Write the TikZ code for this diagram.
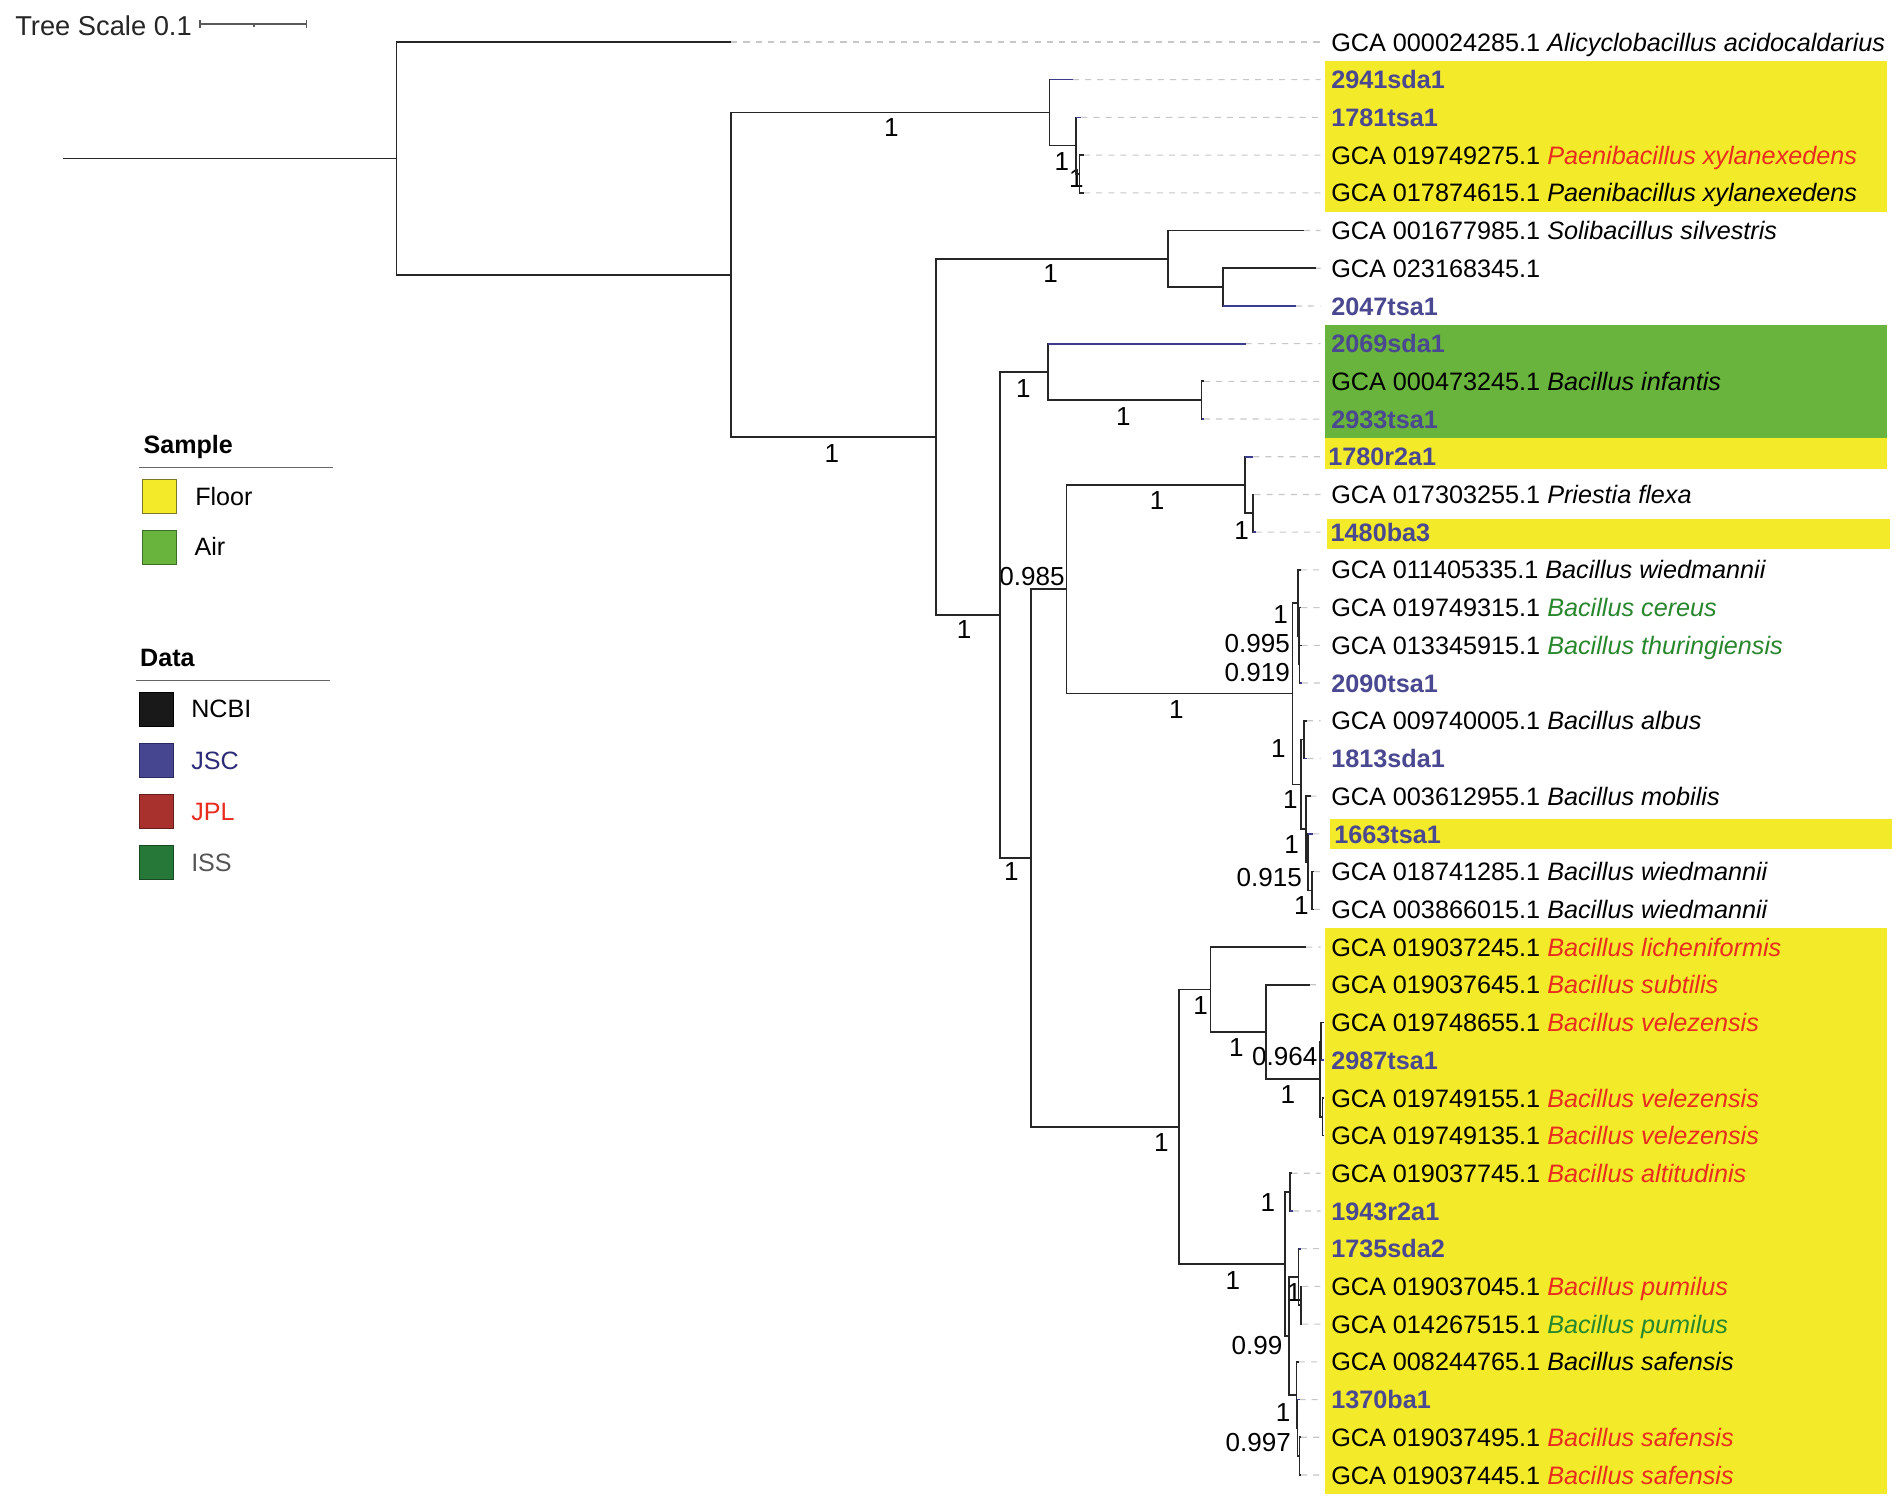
\documentclass[tikz,border=0pt]{standalone}
\usepackage{fontspec}
\setmainfont{Liberation Sans}
\definecolor{floor}{RGB}{243,234,42}
\definecolor{floorb}{RGB}{125,120,40}
\definecolor{air}{RGB}{104,180,60}
\definecolor{airb}{RGB}{60,110,42}
\definecolor{jsctext}{RGB}{74,72,145}
\definecolor{jscline}{RGB}{60,60,140}
\definecolor{jplred}{RGB}{232,45,30}
\definecolor{issgreen}{RGB}{40,135,45}
\definecolor{sqjsc}{RGB}{70,69,143}
\definecolor{sqjpl}{RGB}{168,49,45}
\definecolor{sqiss}{RGB}{38,120,56}
\definecolor{jsclegend}{RGB}{43,43,120}
\definecolor{isslegend}{RGB}{85,85,85}
\begin{document}
\begin{tikzpicture}[x=1pt,y=-1pt,
  br/.style={line width=1.35pt, black!85},
  jb/.style={line width=1.35pt, color=jscline},
  leader/.style={line width=0.9pt, color=black!22, dash pattern=on 5pt off 5pt},
  leaf/.style={anchor=base west, inner sep=0pt, font=\fontsize{20.8}{24}\selectfont},
  jsc/.style={leaf, font=\fontsize{20.8}{24}\selectfont\bfseries, text=jsctext},
  sup/.style={inner sep=0pt, anchor=center, font=\fontsize{21.5}{24}\selectfont},
  legt/.style={anchor=base west, inner sep=0pt, font=\fontsize{20.7}{24}\selectfont},
  legh/.style={anchor=base west, inner sep=0pt, font=\fontsize{20.7}{24}\selectfont\bfseries},
  sq/.style={minimum size=28pt, inner sep=0pt, line width=0.9pt},
]
\fill[white] (0,0) rectangle (1568.3,1239.3);
\path[use as bounding box] (0,0) rectangle (1568.3,1239.3);

% colour bands
\fill[floor] (1092.5,50.2) rectangle (1556,174.5);
\fill[air] (1092.5,267.9) rectangle (1556,361);
\fill[floor] (1092.5,361) rectangle (1556,386.7);
\fill[floor] (1094.5,428.2) rectangle (1558,452.9);
\fill[floor] (1096.5,675.5) rectangle (1560,700.3);
\fill[floor] (1092.5,765.2) rectangle (1556,1231.9);

% tree scale
\node[anchor=base west, inner sep=0pt, font=\fontsize{22.5}{26}\selectfont, text=black!85] (ts) at (12.4,28.9) {Tree Scale 0.1};
\coordinate (sb1) at (164.9,19.8);
\coordinate (sb2) at (252.9,19.8);
\coordinate (sbm) at (209.4,19.8);
\draw[line width=1.1pt, black!65] (sb1) -- (sb2);
\draw[line width=1.1pt, black!65] ([yshift=-3.6pt]sb1) -- ([yshift=3.6pt]sb1);
\draw[line width=1.1pt, black!65] ([yshift=-3.6pt]sb2) -- ([yshift=3.6pt]sb2);
\draw[line width=1pt, black!65] (sbm) -- ([yshift=-2.8pt]sbm);

% tree coordinates
\coordinate (rs) at (52.2,130.6);
\coordinate (root) at (327,130.6);
\coordinate (l1) at (603,34.6);
\coordinate (n603) at (603,226.6);
\coordinate (n865) at (865.5,92.9);
\coordinate (l2) at (884.7,65.7);
\coordinate (n887) at (887.4,120.1);
\coordinate (l3) at (891.6,96.8);
\coordinate (n890) at (890.2,143.45);
\coordinate (l4) at (893.8,127.9);
\coordinate (l5) at (893.8,159.0);
\coordinate (n772) at (772,360.25);
\coordinate (n963) at (963.1,213.4);
\coordinate (l6) at (1075.2,190.1);
\coordinate (n1008) at (1008.4,236.75);
\coordinate (l7) at (1084.8,221.2);
\coordinate (l8) at (1068.4,252.3);
\coordinate (n824) at (824.5,507.1);
\coordinate (n864) at (863.9,306.7);
\coordinate (l9) at (1027.1,283.4);
\coordinate (n990) at (990.8,329.95);
\coordinate (l10) at (992.8,314.4);
\coordinate (l11) at (992.8,345.5);
\coordinate (n850) at (850,707.5);
\coordinate (n879) at (879.5,485.9);
\coordinate (n1026) at (1026.5,399.9);
\coordinate (l12) at (1033.4,376.6);
\coordinate (n1033) at (1032.9,423.25);
\coordinate (l13) at (1034.3,407.7);
\coordinate (l14) at (1035.3,438.8);
\coordinate (nE) at (1065.6,571.95);
\coordinate (nA) at (1070.3,497.1);
\coordinate (l15) at (1072.5,469.9);
\coordinate (nB) at (1070.9,524.3);
\coordinate (l16) at (1073,501.0);
\coordinate (nD) at (1071.6,547.65);
\coordinate (l17) at (1073.2,532.1);
\coordinate (l18) at (1073.5,563.2);
\coordinate (nF) at (1072.7,646.8);
\coordinate (nG) at (1075.2,609.85);
\coordinate (l19) at (1077.7,594.3);
\coordinate (l20) at (1078,625.4);
\coordinate (nH) at (1077.1,683.7);
\coordinate (l21) at (1080.7,656.5);
\coordinate (nI) at (1078.7,710.9);
\coordinate (l22) at (1082.6,687.6);
\coordinate (nJ) at (1082,734.25);
\coordinate (l23) at (1083.5,718.7);
\coordinate (l24) at (1083.5,749.8);
\coordinate (nU) at (971.9,929.05);
\coordinate (nV) at (998,815.9);
\coordinate (l25) at (1077.1,780.9);
\coordinate (nW) at (1044.1,850.9);
\coordinate (l26) at (1079.9,812.0);
\coordinate (nK) at (1088.6,889.75);
\coordinate (nM) at (1089.2,858.65);
\coordinate (l27) at (1091.5,843.1);
\coordinate (l28) at (1091.5,874.2);
\coordinate (nN) at (1090.6,920.85);
\coordinate (l29) at (1091.8,905.3);
\coordinate (l30) at (1091.8,936.4);
\coordinate (nY) at (1059.3,1042.2);
\coordinate (nZ) at (1063.9,982.95);
\coordinate (l31) at (1065,967.4);
\coordinate (l32) at (1066,998.5);
\coordinate (nAA) at (1062.8,1101.5);
\coordinate (nP) at (1070.8,1052.9);
\coordinate (l33) at (1072.5,1029.6);
\coordinate (nQ) at (1072.5,1076.25);
\coordinate (l34) at (1073.8,1060.7);
\coordinate (l35) at (1073.8,1091.8);
\coordinate (nS) at (1068.9,1150.1);
\coordinate (l36) at (1071,1122.9);
\coordinate (nR) at (1069.7,1177.3);
\coordinate (l37) at (1071.5,1154.0);
\coordinate (nT) at (1071.6,1200.65);
\coordinate (l38) at (1072.8,1185.1);
\coordinate (l39) at (1072.8,1216.2);

% leader ends
\foreach \i in {1,...,39} \coordinate (e\i) at (1089,{34.6+31.094*(\i-1)});
\foreach \i in {1,...,26,31,32,33,34,35,36,37,38,39} \draw[leader] (l\i) -- (e\i);

% support values
\node[sup] (s1) at (735,105) {1};
\node[sup] (s2) at (686,374) {1};
\node[sup] (s3) at (866.3,225.9) {1};
\node[sup] (s4) at (795,519) {1};
\node[sup] (s5) at (843.8,320.5) {1};
\node[sup] (s6) at (926.2,343.8) {1};
\node[sup] (s7) at (834,719) {1};
\node[sup] (s8) at (851,475) {0.985};
\node[sup] (s9) at (954,412.5) {1};
\node[sup] (s10) at (1023.8,437.3) {1};
\node[sup] (s11) at (970,585) {1};
\node[sup] (s12) at (1056,506.3) {1};
\node[sup] (s13) at (1036.7,531) {0.995};
\node[sup] (s14) at (1036.7,554.4) {0.919};
\node[sup] (s15) at (1054,617) {1};
\node[sup] (s16) at (1064,659.6) {1};
\node[sup] (s17) at (1065,696.7) {1};
\node[sup] (s18) at (1046.5,723.5) {0.915};
\node[sup] (s19) at (1073,747) {1};
\node[sup] (s20) at (990,829.5) {1};
\node[sup] (s21) at (1019.4,863.5) {1};
\node[sup] (s22) at (1059.3,871) {0.964};
\node[sup] (s23) at (1062,902.5) {1};
\node[sup] (s24) at (957.5,942.2) {1};
\node[sup] (s25) at (1045.5,991.5) {1};
\node[sup] (s26) at (1016.5,1056) {1};
\node[sup] (s27) at (1036.5,1109.5) {0.99};
\node[sup] (s28) at (1067,1065.5) {1};
\node[sup] (s29) at (1058,1164.5) {1};
\node[sup] (s30) at (1037.5,1189.5) {0.997};
\node[sup] (s31) at (875.6,133.6) {1};
\node[sup] (s32) at (887.5,147) {1};

% branches
\draw[br] (rs) -- (root);
\foreach \p/\c in {root/l1, root/n603, n603/n865, n603/n772, n865/l2, n865/n887,
  n887/l3, n887/n890, n890/l4, n890/l5, n772/n963, n772/n824, n963/l6, n963/n1008,
  n1008/l7, n1008/l8, n824/n864, n824/n850, n864/l9, n864/n990, n990/l10, n990/l11,
  n850/n879, n850/nU, n879/n1026, n879/nE, n1026/l12, n1026/n1033, n1033/l13, n1033/l14,
  nE/nA, nE/nF, nA/l15, nA/nB, nB/l16, nB/nD, nD/l17, nD/l18,
  nF/nG, nF/nH, nG/l19, nG/l20, nH/l21, nH/nI, nI/l22, nI/nJ, nJ/l23, nJ/l24,
  nU/nV, nU/nY, nV/l25, nV/nW, nW/l26, nW/nK, nK/nM, nK/nN, nM/l27, nM/l28, nN/l29, nN/l30,
  nY/nZ, nY/nAA, nZ/l31, nZ/l32, nAA/nP, nAA/nS, nP/l33, nP/nQ, nQ/l34, nQ/l35,
  nS/l36, nS/nR, nR/l37, nR/nT, nT/l38, nT/l39}
  \draw[br] (\p) |- (\c);
\foreach \p/\c in {n865/l2, n887/l3, n1008/l8, n864/l9, n990/l11, n1026/l12, n1033/l14,
  nD/l18, nG/l20, nI/l22, nM/l28, nZ/l32, nP/l33, nR/l37}
  \draw[jb] (\c -| \p) -- (\c);

% leaf labels
\node[leaf] (t1) at (1097.5,42.1) {GCA 000024285.1 \textit{Alicyclobacillus acidocaldarius}};
\node[jsc] (t2) at (1097.5,73.2) {2941sda1};
\node[jsc] (t3) at (1097.5,104.3) {1781tsa1};
\node[leaf] (t4) at (1097.5,135.4) {GCA 019749275.1 \textit{\color{jplred}Paenibacillus xylanexedens}};
\node[leaf] (t5) at (1097.5,166.5) {GCA 017874615.1 \textit{Paenibacillus xylanexedens}};
\node[leaf] (t6) at (1097.5,197.6) {GCA 001677985.1 \textit{Solibacillus silvestris}};
\node[leaf] (t7) at (1097.5,228.7) {GCA 023168345.1};
\node[jsc] (t8) at (1097.5,259.8) {2047tsa1};
\node[jsc] (t9) at (1097.5,290.9) {2069sda1};
\node[leaf] (t10) at (1097.5,321.9) {GCA 000473245.1 \textit{Bacillus infantis}};
\node[jsc] (t11) at (1097.5,353.0) {2933tsa1};
\node[jsc] (t12) at (1095,384.1) {1780r2a1};
\node[leaf] (t13) at (1097.5,415.2) {GCA 017303255.1 \textit{Priestia flexa}};
\node[jsc] (t14) at (1097,446.3) {1480ba3};
\node[leaf] (t15) at (1097.5,477.4) {GCA 011405335.1 \textit{Bacillus wiedmannii}};
\node[leaf] (t16) at (1097.5,508.5) {GCA 019749315.1 \textit{\color{issgreen}Bacillus cereus}};
\node[leaf] (t17) at (1097.5,539.6) {GCA 013345915.1 \textit{\color{issgreen}Bacillus thuringiensis}};
\node[jsc] (t18) at (1097.5,570.7) {2090tsa1};
\node[leaf] (t19) at (1097.5,601.8) {GCA 009740005.1 \textit{Bacillus albus}};
\node[jsc] (t20) at (1097.5,632.9) {1813sda1};
\node[leaf] (t21) at (1097.5,664.0) {GCA 003612955.1 \textit{Bacillus mobilis}};
\node[jsc] (t22) at (1100,695.1) {1663tsa1};
\node[leaf] (t23) at (1097.5,726.2) {GCA 018741285.1 \textit{Bacillus wiedmannii}};
\node[leaf] (t24) at (1097.5,757.3) {GCA 003866015.1 \textit{Bacillus wiedmannii}};
\node[leaf] (t25) at (1097.5,788.4) {GCA 019037245.1 \textit{\color{jplred}Bacillus licheniformis}};
\node[leaf] (t26) at (1097.5,819.5) {GCA 019037645.1 \textit{\color{jplred}Bacillus subtilis}};
\node[leaf] (t27) at (1097.5,850.6) {GCA 019748655.1 \textit{\color{jplred}Bacillus velezensis}};
\node[jsc] (t28) at (1097.5,881.7) {2987tsa1};
\node[leaf] (t29) at (1097.5,912.8) {GCA 019749155.1 \textit{\color{jplred}Bacillus velezensis}};
\node[leaf] (t30) at (1097.5,943.9) {GCA 019749135.1 \textit{\color{jplred}Bacillus velezensis}};
\node[leaf] (t31) at (1097.5,974.9) {GCA 019037745.1 \textit{\color{jplred}Bacillus altitudinis}};
\node[jsc] (t32) at (1097.5,1006.0) {1943r2a1};
\node[jsc] (t33) at (1097.5,1037.1) {1735sda2};
\node[leaf] (t34) at (1097.5,1068.2) {GCA 019037045.1 \textit{\color{jplred}Bacillus pumilus}};
\node[leaf] (t35) at (1097.5,1099.3) {GCA 014267515.1 \textit{\color{issgreen}Bacillus pumilus}};
\node[leaf] (t36) at (1097.5,1130.4) {GCA 008244765.1 \textit{Bacillus safensis}};
\node[jsc] (t37) at (1097.5,1161.5) {1370ba1};
\node[leaf] (t38) at (1097.5,1192.6) {GCA 019037495.1 \textit{\color{jplred}Bacillus safensis}};
\node[leaf] (t39) at (1097.5,1223.7) {GCA 019037445.1 \textit{\color{jplred}Bacillus safensis}};

% legend
\node[legh] (hsample) at (118.2,373.8) {Sample};
\coordinate (ls1) at (114.9,385.3);
\coordinate (ls2) at (274.8,385.3);
\draw[line width=0.9pt, black!60] (ls1) -- (ls2);
\node[sq, fill=floor, draw=floorb] (qfloor) at (131.7,409.2) {};
\node[legt] (tfloor) at (160.8,416.4) {Floor};
\node[sq, fill=air, draw=airb] (qair) at (131.7,451.15) {};
\node[legt] (tair) at (160.2,458.2) {Air};
\node[legh] (hdata) at (115.4,549.7) {Data};
\coordinate (ld1) at (112.1,561.3);
\coordinate (ld2) at (272.1,561.3);
\draw[line width=0.9pt, black!60] (ld1) -- (ld2);
\node[sq, fill=black!90, draw=black] (qncbi) at (128.9,585.2) {};
\node[legt] (tncbi) at (157.5,591.4) {NCBI};
\node[sq, fill=sqjsc, draw=jscline!70!black] (qjsc) at (128.9,627.05) {};
\node[legt, text=jsclegend] (tjsc) at (157.5,634.1) {JSC};
\node[sq, fill=sqjpl, draw=sqjpl!60!black] (qjpl) at (128.9,669.15) {};
\node[legt, text=jplred] (tjpl) at (157.5,676.4) {JPL};
\node[sq, fill=sqiss, draw=sqiss!60!black] (qiss) at (128.9,711.45) {};
\node[legt, text=isslegend] (tiss) at (157.5,718.9) {ISS};
\end{tikzpicture}
\end{document}
